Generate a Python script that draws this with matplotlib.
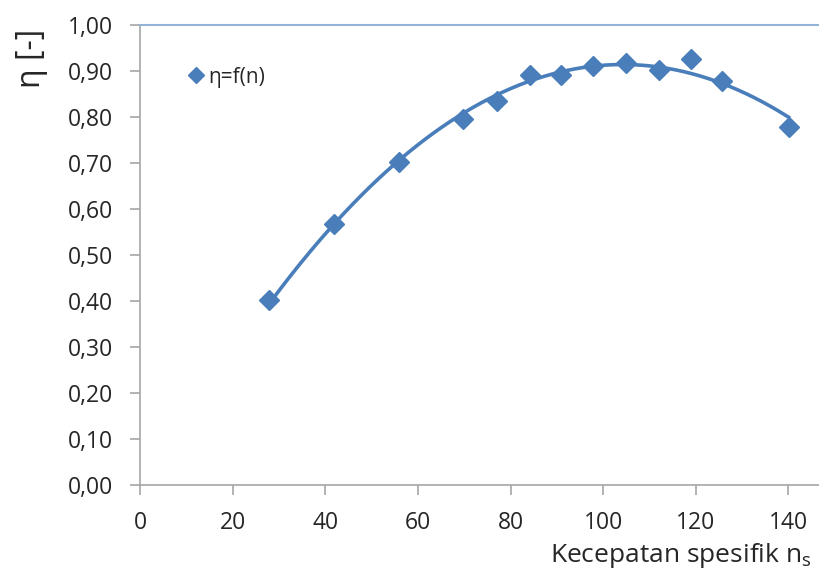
import numpy as np
import matplotlib
matplotlib.use("Agg")
import matplotlib.pyplot as plt
from matplotlib.ticker import FuncFormatter, MultipleLocator

BLUE = "#4a7ebb"
AXIS = "#a6a6a6"
TOPLINE = "#95b3d7"
TEXT = "#262626"

plt.rcParams.update({
    "font.family": ["Open Sans", "DejaVu Sans"],
    "mathtext.fontset": "custom",
    "mathtext.rm": "Open Sans",
})

# measured points: specific speed n_s vs efficiency eta
ns = [27.8, 41.9, 55.9, 69.7, 77.0, 84.2, 90.9, 97.9, 104.9, 112.0, 119.1, 125.8, 140.1]
eta = [0.402, 0.567, 0.702, 0.796, 0.835, 0.891, 0.891, 0.911, 0.918, 0.902, 0.927, 0.878, 0.779]

fig = plt.figure(figsize=(8.2, 5.74), dpi=100)
ax = fig.add_axes([0.1713, 0.155, 0.8287, 0.8015])

# polynomial trendline through the points (as in the spreadsheet chart)
coef = np.polyfit(ns, eta, 2)
xs = np.linspace(min(ns), max(ns), 200)
ax.plot(xs, np.polyval(coef, xs), color=BLUE, lw=2.6, zorder=2)
ax.plot(ns, eta, ls="none", marker="D", ms=10.5, color=BLUE, zorder=3,
        label="η=f(n)")

ax.set_xlim(0, 146.9)
ax.set_ylim(0, 1.0)
ax.xaxis.set_major_locator(MultipleLocator(20))
ax.yaxis.set_major_locator(MultipleLocator(0.1))
ax.yaxis.set_major_formatter(FuncFormatter(lambda v, p: f"{v:.2f}".replace(".", ",")))

for s in ("left", "bottom"):
    ax.spines[s].set_color(AXIS)
    ax.spines[s].set_linewidth(1.2)
ax.spines["right"].set_visible(False)
ax.spines["top"].set_color(TOPLINE)
ax.spines["top"].set_linewidth(1.5)
ax.tick_params(axis="both", colors=AXIS, labelcolor=TEXT, labelsize=16.5,
               length=7, width=1.2)
ax.tick_params(axis="y", pad=13)
ax.tick_params(axis="x", pad=12)

leg = ax.legend(loc="upper left", bbox_to_anchor=(0.04, 0.95), frameon=False,
                fontsize=15, handletextpad=0.15, handlelength=0.9,
                markerscale=0.75)
for t in leg.get_texts():
    t.set_color(TEXT)

fig.text(32 / 820, 1 - 58 / 574, "η [-]", rotation=90, ha="center", va="center",
         fontsize=23, color=TEXT)
fig.text(812 / 820, 1 - 556 / 574, r"Kecepatan spesifik n$_\mathrm{s}$",
         ha="right", va="center", fontsize=19, color=TEXT)

fig.savefig("out.png", dpi=100)
